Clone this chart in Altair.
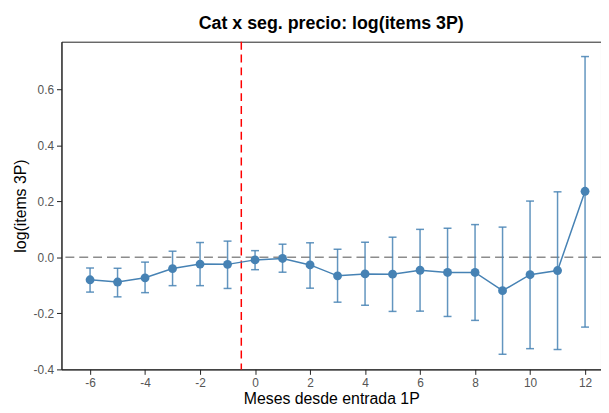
import altair as alt
import pandas as pd

# Event-study estimates
months = [-6, -5, -4, -3, -2, -1, 0, 1, 2, 3, 4, 5, 6, 7, 8, 9, 10, 11, 12]
coef = [-0.080, -0.088, -0.073, -0.040, -0.024, -0.025, -0.009, -0.004, -0.027,
        -0.066, -0.059, -0.060, -0.046, -0.054, -0.054, -0.119, -0.062, -0.047, 0.236]
ci_low = [-0.124, -0.141, -0.126, -0.101, -0.101, -0.111, -0.044, -0.053, -0.110,
          -0.160, -0.171, -0.193, -0.192, -0.211, -0.225, -0.346, -0.326, -0.329, -0.249]
ci_high = [-0.038, -0.039, -0.017, 0.022, 0.053, 0.058, 0.024, 0.047, 0.052,
           0.029, 0.054, 0.072, 0.100, 0.104, 0.117, 0.108, 0.201, 0.234, 0.717]

df = pd.DataFrame({'mes': months, 'coef': coef, 'lo': ci_low, 'hi': ci_high})

blue = '#4682b4'
font = 'Liberation Sans'
# plain hyphen instead of the unicode minus d3-format uses
minus_fix = "replace(datum.label, '\u2212', '-')"

x_scale = alt.Scale(domain=[-7.04, 12.58], nice=False, zero=False)
y_scale = alt.Scale(domain=[-0.4, 0.77], nice=False, zero=False)

x_enc = alt.X('mes:Q', scale=x_scale, title='Meses desde entrada 1P',
              axis=alt.Axis(values=list(range(-6, 13, 2)), grid=False, format='d',
                            labelExpr=minus_fix, titlePadding=2))
y_enc = alt.Y('coef:Q', scale=y_scale, title='log(items 3P)',
              axis=alt.Axis(values=[-0.4, -0.2, 0.0, 0.2, 0.4, 0.6], grid=False, format='.1f',
                            labelExpr=minus_fix, titlePadding=5))

base = alt.Chart(df)

bars = base.mark_rule(color=blue, strokeWidth=1.5, opacity=0.85).encode(
    x=x_enc, y=alt.Y('lo:Q', scale=y_scale), y2='hi:Q'
)
caps_lo = base.mark_tick(color=blue, orient='horizontal', size=8, thickness=1.5, opacity=0.85).encode(
    x=alt.X('mes:Q', scale=x_scale), y=alt.Y('lo:Q', scale=y_scale)
)
caps_hi = base.mark_tick(color=blue, orient='horizontal', size=8, thickness=1.5, opacity=0.85).encode(
    x=alt.X('mes:Q', scale=x_scale), y=alt.Y('hi:Q', scale=y_scale)
)
line = base.mark_line(color=blue, strokeWidth=1.5).encode(x=x_enc, y=y_enc)
points = base.mark_circle(color=blue, size=80, opacity=1).encode(x=x_enc, y=y_enc)

zero = pd.DataFrame({'y': [0.0]})
hline = alt.Chart(zero).mark_rule(color='#8c8c8c', strokeDash=[9, 5], strokeWidth=1.5).encode(
    y=alt.Y('y:Q', scale=y_scale)
)
entry = pd.DataFrame({'x': [-0.5]})
vline = alt.Chart(entry).mark_rule(color='#ff0000', strokeDash=[8, 5], strokeWidth=1.5).encode(
    x=alt.X('x:Q', scale=x_scale)
)

chart = alt.layer(hline, vline, bars, caps_lo, caps_hi, line, points).properties(
    width=545,
    height=331,
    autosize=alt.AutoSizeParams(type='none'),
    padding={'left': 54, 'top': 32, 'right': 0, 'bottom': 42},
    title=alt.TitleParams('Cat x seg. precio: log(items 3P)', fontSize=18, fontWeight='bold',
                          font=font, anchor='middle', offset=8, color='black'),
).configure_view(
    stroke='#222', strokeWidth=1
).configure_axis(
    labelFont=font, titleFont=font, labelFontSize=12, titleFontSize=16,
    labelColor='#555', titleColor='black', domainColor='#222', tickColor='#222',
    tickSize=5, titleFontWeight='normal', labelPadding=3
)

chart.save("out.html", embed_options={"renderer": "svg", "actions": False})
